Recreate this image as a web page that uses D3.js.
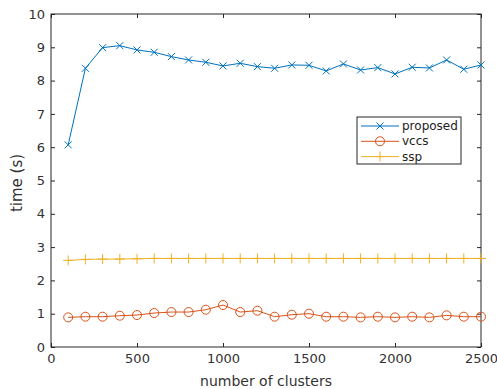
<!DOCTYPE html>
<html><head><meta charset="utf-8">
<script src="https://cdn.jsdelivr.net/npm/d3@7"></script>
<style>body{margin:0;background:#fff}svg{display:block}</style>
</head><body>
<script>
const clusters = [100,200,300,400,500,600,700,800,900,1000,1100,1200,1300,1400,1500,1600,1700,1800,1900,2000,2100,2200,2300,2400,2500];
const proposed = [6.07,8.37,8.99,9.05,8.92,8.85,8.72,8.62,8.55,8.44,8.52,8.42,8.37,8.47,8.46,8.29,8.50,8.32,8.39,8.20,8.40,8.38,8.62,8.34,8.47];
const vccs = [0.89,0.91,0.91,0.94,0.96,1.02,1.05,1.05,1.12,1.26,1.05,1.09,0.91,0.97,1.00,0.91,0.91,0.89,0.91,0.89,0.91,0.89,0.95,0.91,0.91];
const ssp = [2.60,2.63,2.64,2.64,2.65,2.66,2.66,2.66,2.66,2.66,2.66,2.66,2.66,2.66,2.66,2.66,2.66,2.66,2.66,2.66,2.66,2.66,2.66,2.66,2.66];
const xTicks = [0,500,1000,1500,2000,2500];
const yTicks = [0,1,2,3,4,5,6,7,8,9,10];
const seriesNames = ["proposed","vccs","ssp"];
const seriesColors = ["#0072BD","#D95319","#EDB120"];
const seriesMarkers = ["x","o","+"];

const W=497,H=389;
const m={l:51,r:16,t:14,b:42};
const svg=d3.select("body").append("svg").attr("width",W).attr("height",H);
const x=d3.scaleLinear().domain([0,2500]).range([m.l,W-m.r]);
const y=d3.scaleLinear().domain([0,10]).range([H-m.b,m.t]);
const axc="#262626", font="DejaVu Sans, sans-serif";

const g=svg.append("g");
function styleAxis(sel){
  sel.select(".domain").remove();
  sel.selectAll(".tick line").attr("stroke",axc);
  sel.selectAll(".tick text").attr("fill","#333").style("font-family",font).style("font-size","13px");
}
g.append("g").attr("transform",`translate(0,${y(0)})`).call(d3.axisBottom(x).tickValues(xTicks).tickSizeInner(-4).tickPadding(7).tickFormat(d3.format("d"))).call(styleAxis);
g.append("g").attr("transform",`translate(${x(0)},0)`).call(d3.axisLeft(y).tickValues(yTicks).tickSizeInner(-4).tickPadding(6)).call(styleAxis);
g.append("g").attr("transform",`translate(0,${y(10)})`).call(d3.axisTop(x).tickValues(xTicks).tickSizeInner(-4).tickFormat("")).call(styleAxis);
g.append("g").attr("transform",`translate(${x(2500)},0)`).call(d3.axisRight(y).tickValues(yTicks).tickSizeInner(-4).tickFormat("")).call(styleAxis);
g.append("rect").attr("x",x(0)).attr("y",y(10)).attr("width",x(2500)-x(0)).attr("height",y(0)-y(10)).attr("fill","none").attr("stroke",axc).attr("stroke-width",1);

function marker(sel,type,color){
  sel.each(function(){
    const s=d3.select(this);
    if(type==="x"){
      s.append("path").attr("d","M-3.5,-3.5L3.5,3.5M-3.5,3.5L3.5,-3.5").attr("stroke",color).attr("fill","none");
    } else if(type==="o"){
      s.append("circle").attr("r",4.5).attr("stroke",color).attr("fill","none");
    } else {
      s.append("path").attr("d","M-5,0L5,0M0,-5L0,5").attr("stroke",color).attr("fill","none");
    }
  });
}
const data=[proposed,vccs,ssp];
data.forEach((vals,i)=>{
  const pts=clusters.map((c,j)=>[c,vals[j]]);
  g.append("path").datum(pts).attr("fill","none").attr("stroke",seriesColors[i]).attr("stroke-width",1)
    .attr("d",d3.line().x(d=>x(d[0])).y(d=>y(d[1])));
  g.selectAll(null).data(pts).enter().append("g").attr("transform",d=>`translate(${x(d[0])},${y(d[1])})`).call(marker,seriesMarkers[i],seriesColors[i]);
});

svg.append("text").attr("x",(x(0)+x(2500))/2).attr("y",386).attr("text-anchor","middle").attr("fill","#333").style("font-family",font).style("font-size","14px").text("number of clusters");
svg.append("text").attr("transform",`translate(22,183) rotate(-90)`).attr("text-anchor","middle").attr("fill","#333").style("font-family",font).style("font-size","15px").text("time (s)");

const lg=svg.append("g");
lg.append("rect").attr("x",357).attr("y",117).attr("width",104).attr("height",47).attr("fill","#fff").attr("stroke",axc);
seriesNames.forEach((n,i)=>{
  const yy=126+i*15.3;
  lg.append("line").attr("x1",361).attr("x2",399).attr("y1",yy).attr("y2",yy).attr("stroke",seriesColors[i]);
  lg.append("g").attr("transform",`translate(380,${yy})`).call(marker,seriesMarkers[i],seriesColors[i]);
  lg.append("text").attr("x",402).attr("y",yy+4).attr("fill","#222").style("font-family",font).style("font-size","12px").text(n);
});
</script>
</body></html>
